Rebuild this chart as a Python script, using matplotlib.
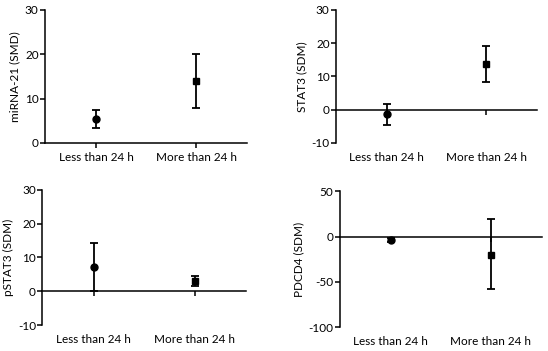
import matplotlib.pyplot as plt
import matplotlib.transforms as mtransforms

plt.rcParams['font.family'] = ['Lato', 'DejaVu Sans']
plt.rcParams['axes.unicode_minus'] = False

categories = ["Less than 24 h", "More than 24 h"]

mirna_mean = [5.3, 14.0]
mirna_low = [3.3, 7.8]
mirna_high = [7.3, 20.0]

stat3_mean = [-1.3, 13.7]
stat3_low = [-4.5, 8.2]
stat3_high = [1.8, 19.2]

pstat3_mean = [7.3, 3.0]
pstat3_low = [0.2, 1.5]
pstat3_high = [14.3, 4.6]

pdcd4_mean = [-4.0, -20.0]
pdcd4_low = [-6.0, -58.0]
pdcd4_high = [-2.0, 19.0]

panels = [
    ("miRNA-21 (SMD)", mirna_mean, mirna_low, mirna_high, (0, 30), [0, 10, 20, 30]),
    ("STAT3 (SDM)", stat3_mean, stat3_low, stat3_high, (-10, 30), [-10, 0, 10, 20, 30]),
    ("pSTAT3 (SDM)", pstat3_mean, pstat3_low, pstat3_high, (-10, 30), [-10, 0, 10, 20, 30]),
    ("PDCD4 (SDM)", pdcd4_mean, pdcd4_low, pdcd4_high, (-100, 50), [-100, -50, 0, 50]),
]

# axes rectangles in figure fractions (left, bottom, width, height)
rects = [
    (0.082, 0.593, 0.369, 0.379),
    (0.613, 0.593, 0.367, 0.379),
    (0.077, 0.074, 0.372, 0.385),
    (0.620, 0.068, 0.369, 0.387),
]

markers = ["o", "s"]
fs = 8.5

fig = plt.figure(figsize=(5.48, 3.51), dpi=100)

for (ylabel, mean, low, high, ylim, yticks), rect in zip(panels, rects):
    ax = fig.add_axes(rect)
    x = range(len(categories))
    for i in x:
        err = [[mean[i] - low[i]], [high[i] - mean[i]]]
        ax.errorbar([i], [mean[i]], yerr=err, fmt=markers[i], color="black",
                    markersize=5, capsize=3, elinewidth=1.3, capthick=1.3)
    ax.set_xlim(-0.51, 1.51)
    ax.set_ylim(*ylim)
    ax.set_yticks(yticks)
    ax.set_ylabel(ylabel, fontsize=fs, labelpad=3)
    for side in ["top", "right"]:
        ax.spines[side].set_visible(False)
    ax.spines["bottom"].set_position(("data", 0))
    ax.spines["left"].set_linewidth(1.1)
    ax.spines["bottom"].set_linewidth(1.1)
    ax.set_xticks(list(x))
    ax.set_xticklabels([])
    ax.tick_params(axis="both", direction="out", length=3.5, width=1.1,
                   labelsize=fs, pad=1, colors="black")
    trans = mtransforms.blended_transform_factory(ax.transData, ax.transAxes)
    for i, lab in zip(x, categories):
        ax.text(i, -0.065, lab, transform=trans, ha="center", va="top", fontsize=fs)

fig.savefig("out.png", dpi=100)
